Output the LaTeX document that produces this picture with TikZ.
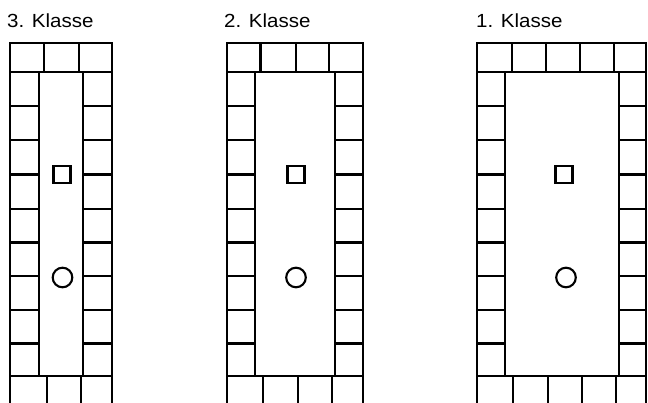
\documentclass[tikz,border=0pt]{standalone}
\usepackage{graphicx}
\usepackage{fontspec}
\newfontfamily\lblfont{Liberation Sans}
\newcommand{\klasse}[1]{\scalebox{1.08}[1]{#1}}
\begin{document}
\begin{tikzpicture}[x=1pt,y=-1pt,
  frame/.style={line width=2.5pt, line join=miter, line cap=rect},
  symb/.style={line width=2.1pt},
  lbl/.style={anchor=base west, inner sep=0pt, font=\lblfont\fontsize{19}{21}\selectfont}]
\useasboundingbox (0,0) rectangle (648,403);
\clip (0,0) rectangle (648,403);
\fill[white] (0,0) rectangle (648,403);
% labels
\node[lbl] (l3) at (7,28) {\klasse{3. Klasse}};
\node[lbl] (l2) at (224,28) {\klasse{2. Klasse}};
\node[lbl] (l1) at (476,28) {\klasse{1. Klasse}};
% seat plans
\foreach \L/\R/\IL/\IR/\top/\bot/\sx/\cx in {
   10/112/39/83/{44,79}/{47,81}/62/62.5,
   227/363/255/335/{260.7,296,329}/{263,298,332}/296/296,
   477/646/505/619/{512,546,580,614}/{513,548,582,616}/564/566}{
  \draw[frame] (\L,43) rectangle (\R,420);
  \draw[frame] (\L,72) -- (\R,72);
  \draw[frame] (\L,376) -- (\R,376);
  \draw[frame] (\IL,72) -- (\IL,376);
  \draw[frame] (\IR,72) -- (\IR,376);
  \foreach \x in \top { \draw[frame] (\x,43) -- (\x,72); }
  \foreach \x in \bot { \draw[frame] (\x,376) -- (\x,420); }
  \foreach \y in {106,140,174.5,209,242.5,276,310,343.5} {
    \draw[frame] (\L,\y) -- (\IL,\y);
    \draw[frame] (\IR,\y) -- (\R,\y);
  }
  \draw[symb] (\sx-8.5,166) rectangle (\sx+8.5,183);
  \draw[symb] (\cx,277.5) circle (9.8);
}
\end{tikzpicture}
\end{document}
